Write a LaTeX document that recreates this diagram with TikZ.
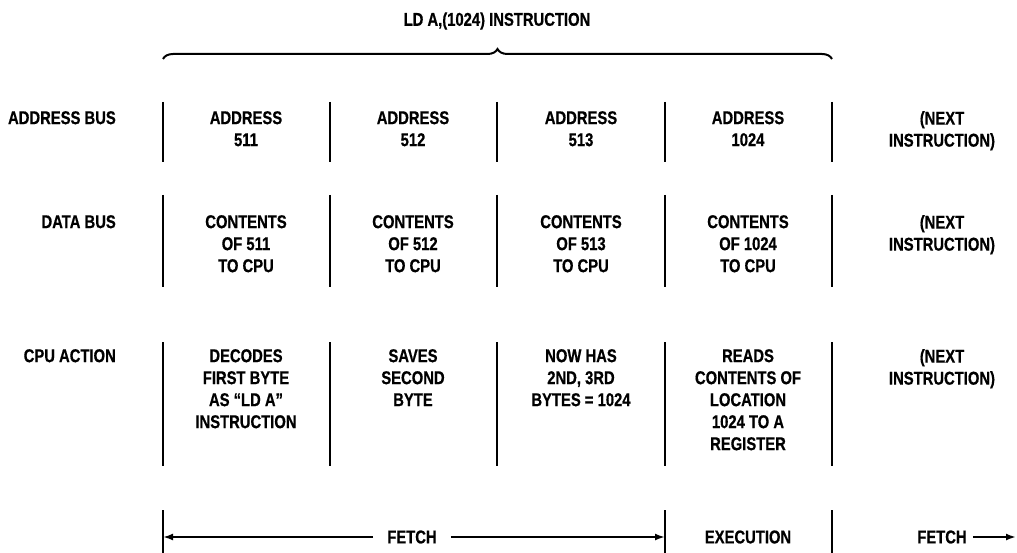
\documentclass[tikz,border=0pt]{standalone}
\usepackage{fontspec}
\setmainfont{Liberation Sans}[FakeStretch=0.8,BoldFeatures={FakeBold=0.6}]
\usetikzlibrary{arrows.meta,positioning,decorations.pathreplacing}

\tikzset{
  cell/.style={font=\bfseries\fontsize{18.5}{22}\selectfont,align=center,anchor=north,inner sep=0pt},
  rowlbl/.style={font=\bfseries\fontsize{18.5}{22}\selectfont,anchor=north east,inner sep=0pt},
  sep/.style={line width=2pt},
  arr/.style={line width=2pt,-{Latex[length=10pt,width=7pt]}}
}

\begin{document}
\begin{tikzpicture}[x=1pt,y=-1pt]
	\useasboundingbox (0,0) rectangle (1017,553);
	% title and brace
	\node[cell,anchor=center] (title) at (497,21) {LD A,(1024) INSTRUCTION};
	\coordinate (bl) at (163,59);
	\coordinate (br) at (832,59);
	\draw[line width=2pt,decorate,decoration={brace,amplitude=10pt}] (bl) -- (br);
	% separators
	\foreach \x in {163,330,497,665,832} {
		\draw[sep] (\x,102) -- (\x,162);
		\draw[sep] (\x,195) -- (\x,287);
		\draw[sep] (\x,342) -- (\x,466);
	}
	\foreach \x in {163,665,832}
		\draw[sep] (\x,510) -- (\x,553);
	% row labels
	\node[rowlbl] (abus) at (116,111) {ADDRESS BUS};
	\node[rowlbl] (dbus) at (116,215) {DATA BUS};
	\node[rowlbl] (cpu) at (116,349) {CPU ACTION};
	% address bus
	\node[cell] (a1) at (246,111) {ADDRESS\\511};
	\node[cell] (a2) at (413,111) {ADDRESS\\512};
	\node[cell] (a3) at (581,111) {ADDRESS\\513};
	\node[cell] (a4) at (748,111) {ADDRESS\\1024};
	\node[cell] (a5) at (942,111) {(NEXT\\INSTRUCTION)};
	% data bus
	\node[cell] (d1) at (246,215) {CONTENTS\\OF 511\\TO CPU};
	\node[cell] (d2) at (413,215) {CONTENTS\\OF 512\\TO CPU};
	\node[cell] (d3) at (581,215) {CONTENTS\\OF 513\\TO CPU};
	\node[cell] (d4) at (748,215) {CONTENTS\\OF 1024\\TO CPU};
	\node[cell] (d5) at (942,215) {(NEXT\\INSTRUCTION)};
	% cpu action
	\node[cell] (c1) at (246,349) {DECODES\\FIRST BYTE\\AS ``LD A''\\INSTRUCTION};
	\node[cell] (c2) at (413,349) {SAVES\\SECOND\\BYTE};
	\node[cell] (c3) at (581,349) {NOW HAS\\2ND, 3RD\\BYTES = 1024};
	\node[cell] (c4) at (748,349) {READS\\CONTENTS OF\\LOCATION\\1024 TO A\\REGISTER};
	\node[cell] (c5) at (942,349) {(NEXT\\INSTRUCTION)};
	% fetch / execution
	\node[cell,anchor=center,inner xsep=14pt] (fetch) at (412,537) {FETCH};
	\node[cell,anchor=center] (exec) at (748,537) {EXECUTION};
	\node[cell,anchor=center,inner xsep=6pt] (next) at (942,537) {FETCH};
	\coordinate (fl) at (163,537);
	\coordinate (fr) at (665,537);
	\coordinate (nr) at (1016,537);
	\draw[arr] (fetch.west) -- (fl);
	\draw[arr] (fetch.east) -- (fr);
	\draw[arr] (next.east) -- (nr);
\end{tikzpicture}
\end{document}
